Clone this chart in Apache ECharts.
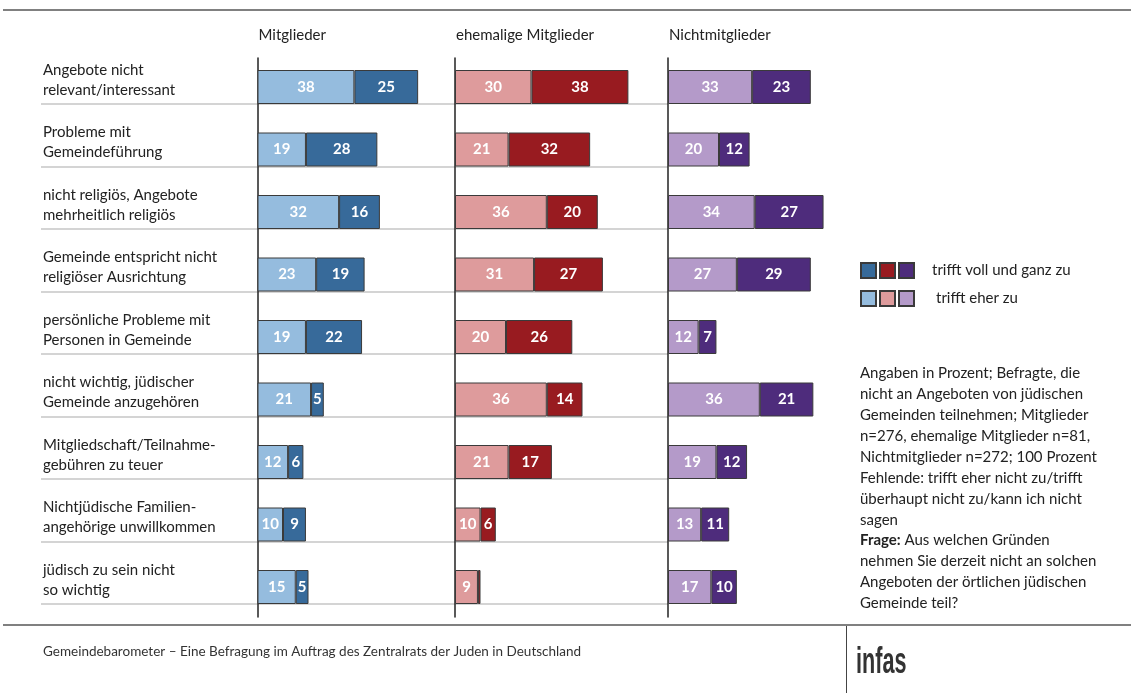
<!DOCTYPE html>
<html>
<head>
<meta charset="utf-8">
<script src="https://cdn.jsdelivr.net/npm/echarts@6/dist/echarts.min.js"></script>
<style>html,body{margin:0;padding:0;background:#fff}#c{width:1131px;height:693px}</style>
</head>
<body>
<div id="c"></div>
<script>
const categories = [
  'Angebote nicht\nrelevant/interessant',
  'Probleme mit\nGemeindeführung',
  'nicht religiös, Angebote\nmehrheitlich religiös',
  'Gemeinde entspricht nicht\nreligiöser Ausrichtung',
  'persönliche Probleme mit\nPersonen in Gemeinde',
  'nicht wichtig, jüdischer\nGemeinde anzugehören',
  'Mitgliedschaft/Teilnahme-\ngebühren zu teuer',
  'Nichtjüdische Familien-\nangehörige unwillkommen',
  'jüdisch zu sein nicht\nso wichtig'
];
const groups = ['Mitglieder', 'ehemalige Mitglieder', 'Nichtmitglieder'];
const legendLabels = ['trifft voll und ganz zu', 'trifft eher zu'];
// trifft eher zu (light)
const mitgliederEher = [38, 19, 32, 23, 19, 21, 12, 10, 15];
const ehemaligeEher  = [30, 21, 36, 31, 20, 36, 21, 10, 9];
const nichtEher      = [33, 20, 34, 27, 12, 36, 19, 13, 17];
// trifft voll und ganz zu (dark)
const mitgliederVoll = [25, 28, 16, 19, 22, 5, 6, 9, 5];
const ehemaligeVoll  = [38, 32, 20, 27, 26, 14, 17, 6, 1];
const nichtVoll      = [23, 12, 27, 29, 7, 21, 12, 11, 10];

const noteText = 'Angaben in Prozent; Befragte, die\nnicht an Angeboten von jüdischen\nGemeinden teilnehmen; Mitglieder\nn=276, ehemalige Mitglieder n=81,\nNichtmitglieder n=272; 100 Prozent\nFehlende: trifft eher nicht zu/trifft\nüberhaupt nicht zu/kann ich nicht\nsagen\n{b|Frage:} Aus welchen Gründen\nnehmen Sie derzeit nicht an solchen\nAngeboten der örtlichen jüdischen\nGemeinde teil?';
const footerText = 'Gemeindebarometer – Eine Befragung im Auftrag des Zentralrats der Juden in Deutschland';
const logoText = 'infas';

const FONT = 'Lato, "Open Sans", sans-serif';
const lightColors = ['#95bcde', '#de9b9c', '#b49ac9'];
const darkColors  = ['#376a9a', '#981b20', '#4e2c7c'];
const eher = [mitgliederEher, ehemaligeEher, nichtEher];
const voll = [mitgliederVoll, ehemaligeVoll, nichtVoll];
const panelLeft = [257.5, 455, 668];
const bandTop = 41.5, bandH = 562.5;

// grid 0: horizontal separator lines; grid 1: row labels (shifted down a little)
const grid = [
  {left: 41, top: bandTop, width: 627, height: bandH},
  {left: 41, top: bandTop + 7, width: 627, height: bandH}
];
const xAxis = [
  {gridIndex: 0, type: 'value', show: false, min: 0, max: 100},
  {gridIndex: 1, type: 'value', show: false, min: 0, max: 100}
];
const yAxis = [{
  gridIndex: 0, type: 'category', data: categories, inverse: true,
  axisLine: {show: false}, axisTick: {show: false}, axisLabel: {show: false},
  splitLine: {show: true, showMinLine: false, lineStyle: {color: '#c6c6c6', width: 1.5}}
}, {
  gridIndex: 1, type: 'category', data: categories, inverse: true,
  axisLine: {show: false}, axisTick: {show: false}, splitLine: {show: false},
  axisLabel: {inside: true, margin: 2, interval: 0, showMinLabel: true, showMaxLabel: true,
    fontFamily: FONT, fontSize: 15, color: '#222', lineHeight: 20, verticalAlign: 'middle'}
}];
const series = [];
const title = [];
groups.forEach((g, i) => {
  grid.push({left: panelLeft[i], top: bandTop, width: 255, height: bandH});
  const gi = grid.length - 1;
  xAxis.push({gridIndex: gi, type: 'value', show: false, min: 0, max: 100});
  yAxis.push({gridIndex: gi, type: 'category', data: categories, inverse: true, show: false});
  const xi = xAxis.length - 1, yi = yAxis.length - 1;
  series.push({
    type: 'bar', name: 'spacer' + i, xAxisIndex: xi, yAxisIndex: yi, stack: 'sp' + i,
    data: categories.map(() => 0), barWidth: 28.5, barGap: 0, silent: true,
    itemStyle: {color: 'rgba(0,0,0,0)', borderWidth: 0}, label: {show: false}
  });
  const lbl = {show: true, position: 'inside', color: '#fff', fontFamily: FONT, fontWeight: 'bold', fontSize: 15,
    formatter: p => p.value >= 3 ? String(p.value) : ''};
  series.push({
    type: 'bar', name: legendLabels[1] + ' – ' + g, xAxisIndex: xi, yAxisIndex: yi, stack: 'st' + i,
    data: eher[i], barWidth: 34, barGap: 0,
    itemStyle: {color: lightColors[i], borderColor: '#3a3a3a', borderWidth: 1}, label: lbl
  });
  series.push({
    type: 'bar', name: legendLabels[0] + ' – ' + g, xAxisIndex: xi, yAxisIndex: yi, stack: 'st' + i,
    data: voll[i], barWidth: 34, barGap: 0,
    itemStyle: {color: darkColors[i], borderColor: '#3a3a3a', borderWidth: 1}, label: lbl
  });
  grid.push({left: panelLeft[i], top: 58, width: 255, height: 559});
  const gj = grid.length - 1;
  xAxis.push({gridIndex: gj, type: 'value', show: false, min: 0, max: 100});
  yAxis.push({gridIndex: gj, type: 'value', min: 0, max: 1, axisLine: {show: true, lineStyle: {color: '#222', width: 1.5}},
    axisTick: {show: false}, axisLabel: {show: false}, splitLine: {show: false}});
  title.push({text: g, left: panelLeft[i] + 1, top: 28, padding: 0, textStyle: {fontFamily: FONT, fontSize: 15, fontWeight: 'normal', color: '#222'}});
});

title.push({text: noteText, left: 860, top: 363, padding: 0, textStyle: {fontFamily: FONT, fontSize: 15, fontWeight: 'normal', color: '#222', lineHeight: 20.9,
  rich: {b: {fontFamily: FONT, fontSize: 15, fontWeight: 'bold', color: '#222', lineHeight: 20.9}}}});
title.push({text: footerText, left: 43, top: 645, padding: 0, textStyle: {fontFamily: FONT, fontSize: 13.5, fontWeight: 'normal', color: '#333'}});

function legendFor(kindIdx, top) {
  const names = groups.map(g => legendLabels[kindIdx] + ' – ' + g);
  return {
    left: 860, top: top, padding: 0, orient: 'horizontal', itemWidth: 15, itemHeight: 15, itemGap: 2,
    selectedMode: false, icon: 'rect',
    data: names.map((n, k) => k === 2 ? {name: n, textStyle: {padding: [0, 0, 0, kindIdx === 0 ? 13 : 17]}} : {name: n}),
    formatter: n => n === names[2] ? legendLabels[kindIdx] : '',
    textStyle: {fontFamily: FONT, fontSize: 15, color: '#222'}
  };
}

const chart = echarts.init(document.getElementById('c'), null, {renderer: 'canvas'});
chart.setOption({
  animation: false,
  backgroundColor: '#fff',
  title: title,
  legend: [legendFor(0, 262), legendFor(1, 290)],
  grid: grid, xAxis: xAxis, yAxis: yAxis, series: series,
  graphic: [
    {type: 'line', shape: {x1: 3, y1: 10, x2: 1131, y2: 10}, style: {stroke: '#808080', lineWidth: 2}},
    {type: 'line', shape: {x1: 3, y1: 625, x2: 1131, y2: 625}, style: {stroke: '#808080', lineWidth: 2}},
    {type: 'line', shape: {x1: 846.5, y1: 626, x2: 846.5, y2: 693}, style: {stroke: '#444', lineWidth: 1}},
    {type: 'text', x: 856, y: 645, scaleX: 0.6, style: {text: logoText, fontFamily: '"Liberation Sans", sans-serif', fontSize: 36, fontWeight: 'bold', fill: '#333'}}
  ]
});
</script>
</body>
</html>
